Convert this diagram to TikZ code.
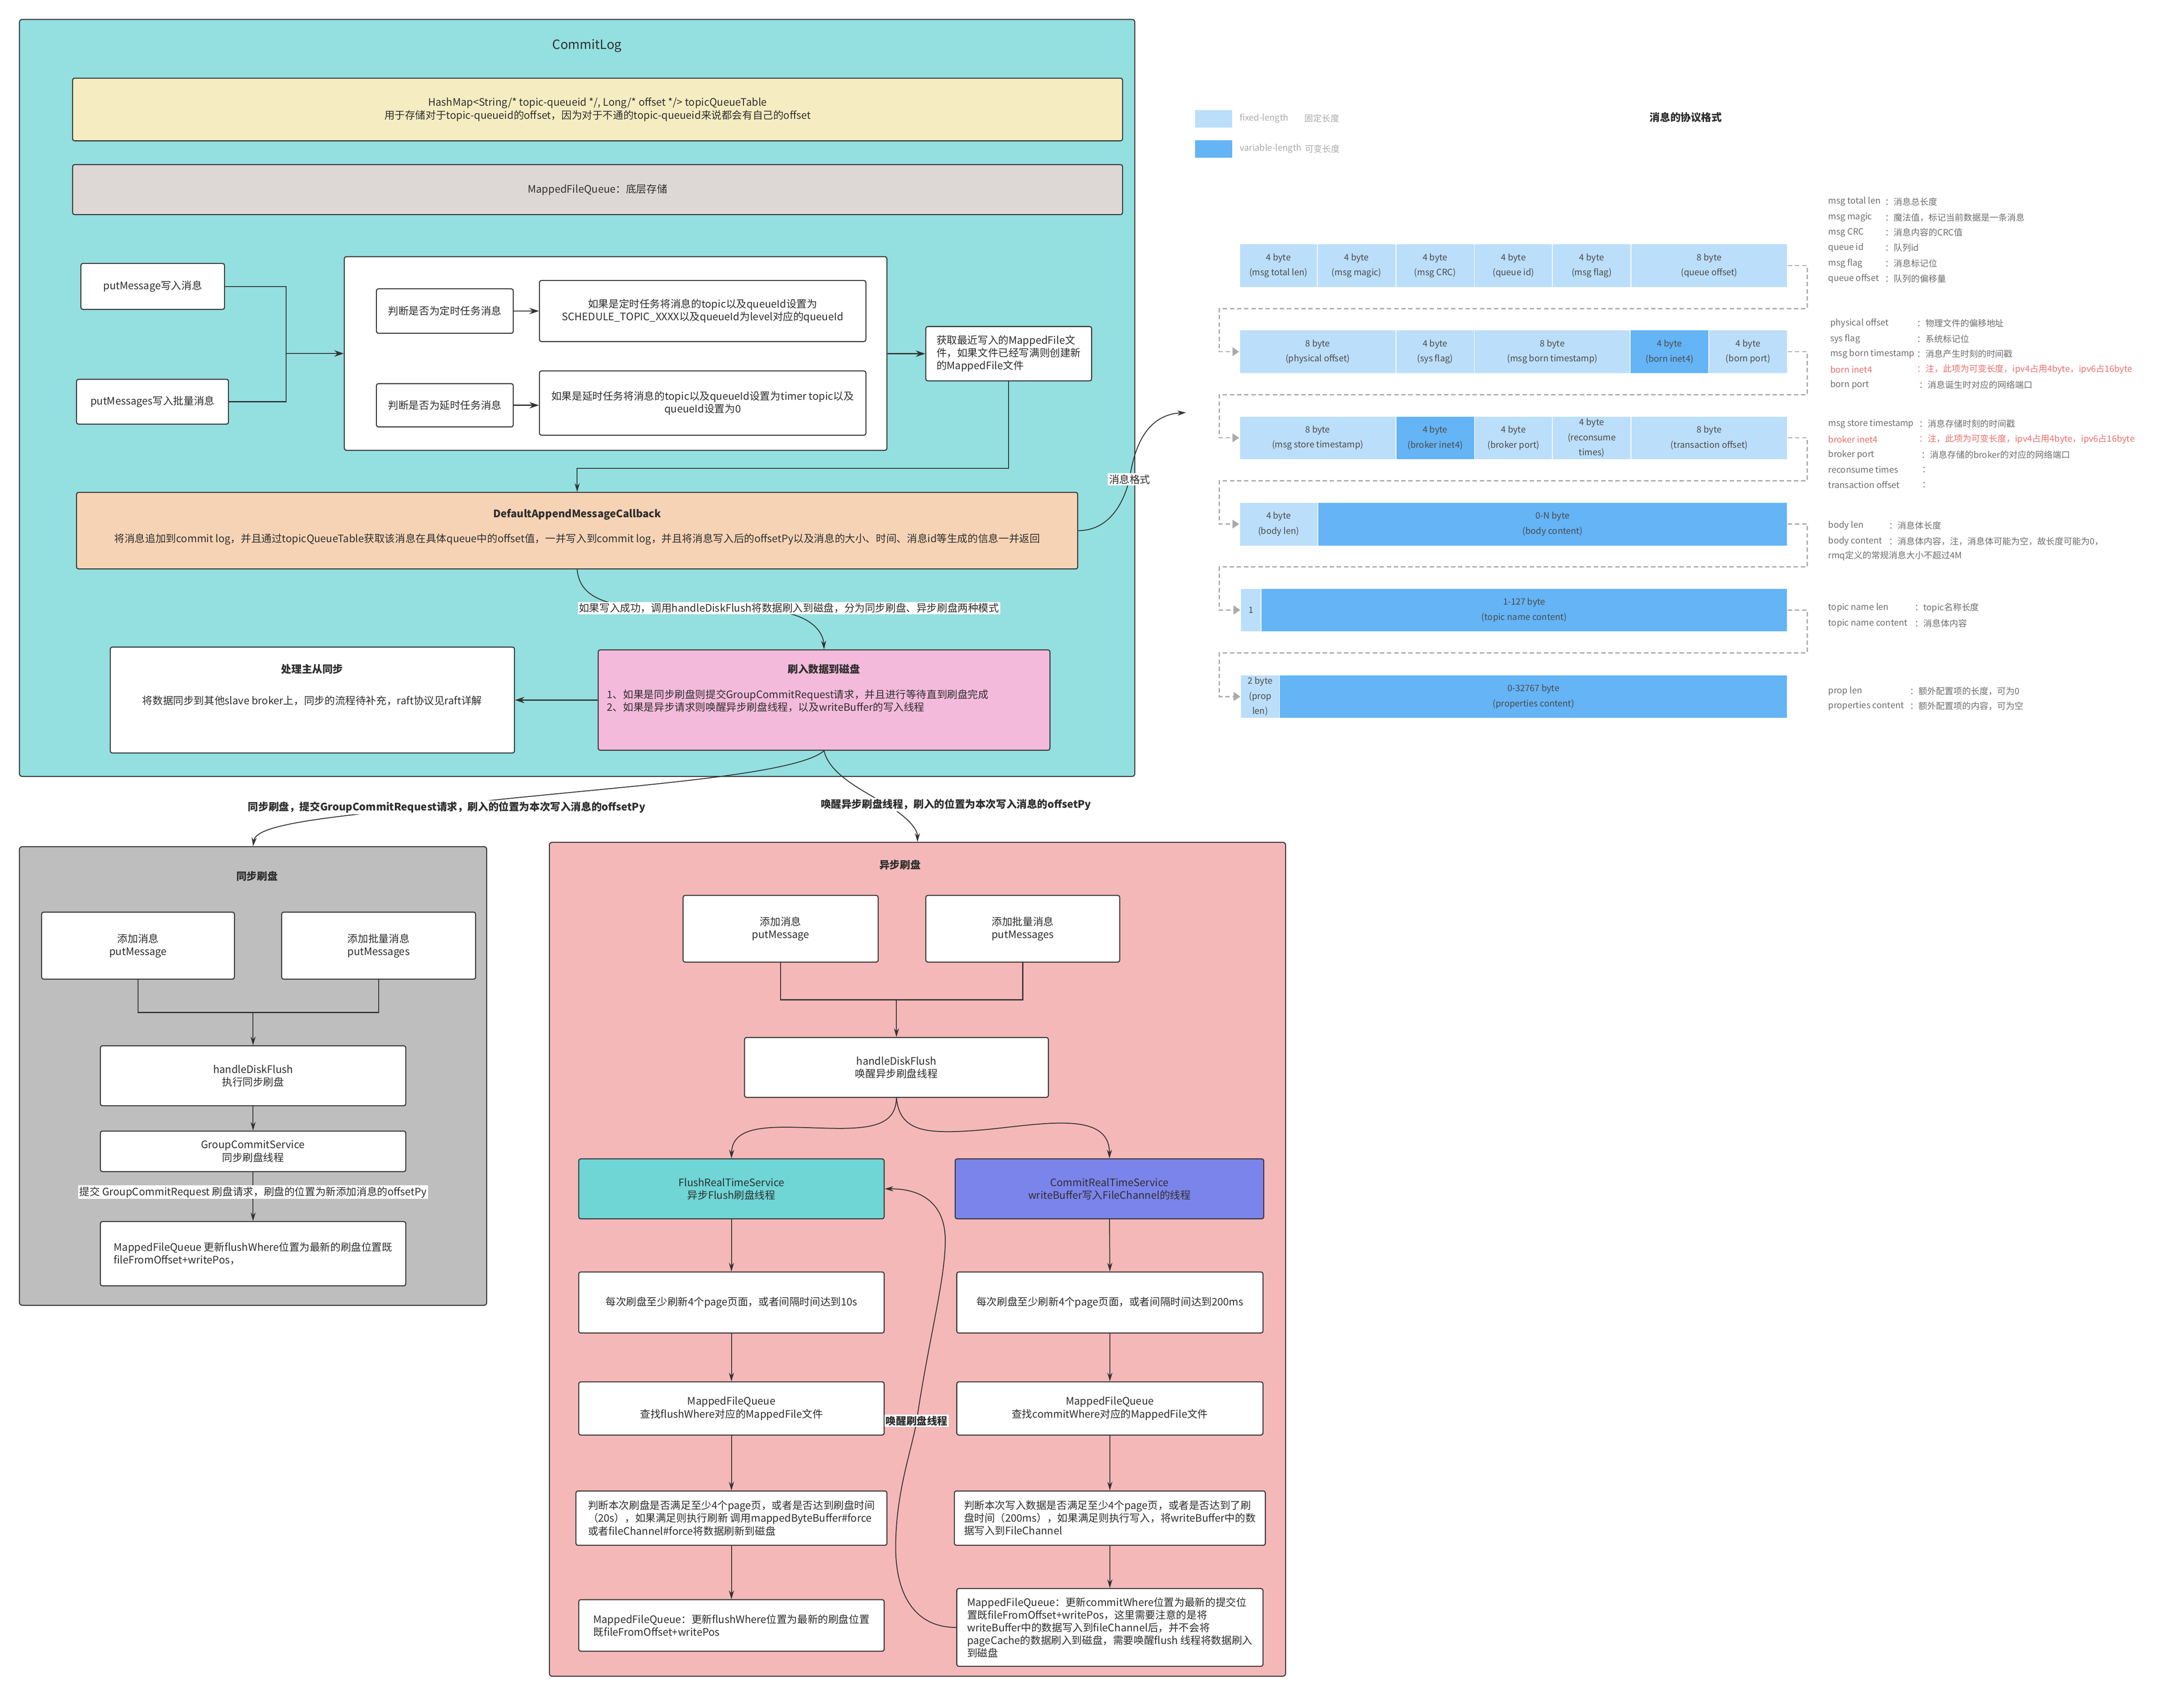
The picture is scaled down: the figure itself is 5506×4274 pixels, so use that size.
\documentclass[tikz,border=0pt]{standalone}
\usepackage{fontspec}
\setmainfont{Noto Sans CJK SC}
\usetikzlibrary{arrows.meta}
\definecolor{lc}{HTML}{333333}
\definecolor{txt}{HTML}{2E2E2E}
\definecolor{cyanbg}{HTML}{94DFE0}
\definecolor{yel}{HTML}{F5EDC1}
\definecolor{gry}{HTML}{DDD8D6}
\definecolor{peach}{HTML}{F7D3B5}
\definecolor{pinkb}{HTML}{F4BADB}
\definecolor{syncg}{HTML}{BEBEBE}
\definecolor{asyncp}{HTML}{F4B8B8}
\definecolor{tealb}{HTML}{6FD5D5}
\definecolor{violetb}{HTML}{7B84EA}
\definecolor{lblue}{HTML}{BBDEFA}
\definecolor{dblue}{HTML}{64B4F6}
\definecolor{celltxt}{HTML}{4A4A4A}
\definecolor{dashc}{HTML}{AAAAAA}
\definecolor{desct}{HTML}{6E6E6E}
\definecolor{legt}{HTML}{AAAAAA}
\definecolor{redt}{HTML}{E8706E}
\newcommand\ftN{\fontsize{26}{32}\selectfont}
\newcommand\ftB{\fontsize{26}{32}\selectfont\bfseries}
\newcommand\ftC{\fontsize{22}{38}\selectfont}
\newcommand\ftD{\fontsize{22}{28}\selectfont}
\newcommand\mkbox[7][]{\node[#1, minimum width={(#5-#3)*1pt}, minimum height={(#6-#4)*1pt}] (#2) at ({(#3+#5)/2},{(#4+#6)/2}) {#7};}
\begin{document}
\begin{tikzpicture}[x=1pt,y=-1pt,
 box/.style={draw=lc,line width=2.5pt,fill=white,rounded corners=5pt,font=\ftN,align=center,inner sep=0pt,text=txt},
 grp/.style={draw=lc,line width=2.5pt,rounded corners=7pt,inner sep=0pt},
 ln/.style={draw=lc,line width=2.5pt},
 arr/.style={draw=lc,line width=3pt,-{Stealth[length=24pt,width=16pt]}},
 arrt/.style={draw=lc,line width=2.2pt,-{Stealth[length=22pt,width=13pt]}},
 lab/.style={fill=white,inner sep=3pt,font=\ftN,text=txt},
 blab/.style={fill=white,inner sep=3pt,font=\ftB,text=txt},
 cellA/.style={fill=lblue,draw=white,line width=2pt,font=\ftC,text=celltxt,align=center,inner sep=0pt},
 cellB/.style={cellA,fill=dblue},
 dsh/.style={draw=dashc,line width=3pt,dash pattern=on 11pt off 7pt},
 dsha/.style={dsh,-{Triangle[length=17pt,width=22pt]}},
 desc/.style={font=\ftD,text=desct,anchor=west,inner sep=0pt},
 descr/.style={desc,text=redt},
 leg/.style={font=\ftC,text=legt,anchor=west,inner sep=0pt},
 ttl/.style={font=\ftB,text=txt,inner sep=0pt}
]
\fill[white] (0,0) rectangle (5506,4274);
\useasboundingbox (0,0) rectangle (5506,4274);

% ---------------- CommitLog ----------------
\mkbox[grp,fill=cyanbg]{commitlog}{49}{49}{2861}{1957}{}
\node[font=\fontsize{32}{38}\selectfont,text=txt] (cltitle) at (1480,115) {CommitLog};
\mkbox[box,fill=yel]{hashmap}{183}{197}{2830}{355}{HashMap<String/* topic-queueid */, Long/* offset */> topicQueueTable\\用于存储对于topic-queueid的offset，因为对于不通的topic-queueid来说都会有自己的offset}
\mkbox[box,fill=gry]{mfq}{183}{415}{2830}{541}{MappedFileQueue：底层存储}

\mkbox[box]{pm}{204}{664}{566}{780}{putMessage写入消息}
\mkbox[box]{pms}{193}{956}{576}{1069}{putMessages写入批量消息}
\mkbox[box]{cont}{868}{647}{2236}{1135}{}
\mkbox[box]{jd1}{949}{728}{1294}{840}{判断是否为定时任务消息}
\mkbox[box]{rd1}{1360}{707}{2183}{861}{如果是定时任务将消息的topic以及queueId设置为\\SCHEDULE\_TOPIC\_XXXX以及queueId为level对应的queueId}
\mkbox[box]{jd2}{949}{967}{1294}{1076}{判断是否为延时任务消息}
\mkbox[box]{rd2}{1360}{935}{2183}{1097}{如果是延时任务将消息的topic以及queueId设置为timer topic以及\\queueId设置为0}
\mkbox[box,align=left]{getmf}{2334}{823}{2752}{960}{获取最近写入的MappedFile文\\件，如果文件已经写满则创建新\\的MappedFile文件}

\coordinate (j1) at (721,891);
\draw[ln] (pm.east) -| (j1);
\draw[ln] (pms.east) -| (j1);
\draw[arr] (j1) -- (cont.west |- j1);
\draw[arr] (jd1.east) -- (rd1.west |- jd1.east);
\draw[arr] (jd2.east) -- (rd2.west |- jd2.east);
\draw[arr] (cont.east |- getmf.west) -- (getmf.west);

\mkbox[box,fill=peach]{dam}{193}{1241}{2717}{1434}{}
\node[ttl] (damt) at (1455,1297) {DefaultAppendMessageCallback};
\node[font=\ftN,text=txt] (damb) at (1455,1359) {将消息追加到commit log，并且通过topicQueueTable获取该消息在具体queue中的offset值，一并写入到commit log，并且将消息写入后的offsetPy以及消息的大小、时间、消息id等生成的信息一并返回};
\coordinate (j2) at (1455,1181);
\draw[arrt] (getmf.south) |- (j2) -- (dam.north);

\mkbox[box,fill=pinkb]{fd}{1508}{1638}{2647}{1891}{}
\node[ttl] (fdt) at (2077,1686) {刷入数据到磁盘};
\node[font=\ftN,text=txt,align=left,anchor=west] (fdb) at (1527,1767) {1、如果是同步刷盘则提交GroupCommitRequest请求，并且进行等待直到刷盘完成\\2、如果是异步请求则唤醒异步刷盘线程，以及writeBuffer的写入线程};
\mkbox[box]{ms}{278}{1631}{1297}{1898}{}
\node[ttl] (mst) at (787,1686) {处理主从同步};
\node[font=\ftN,text=txt] (msb) at (787,1766) {将数据同步到其他slave broker上，同步的流程待补充，raft协议见raft详解};
\draw[arr] (fd.west) -- (ms.east);

\draw[arrt] (dam.south) .. controls (1460,1490) and (1500,1520) .. (1600,1530) -- (1950,1540) .. controls (2040,1548) and (2075,1590) .. (fd.north);
\node[lab] (l1) at (1989,1533) {如果写入成功，调用handleDiskFlush将数据刷入到磁盘，分为同步刷盘、异步刷盘两种模式};

\coordinate (protoin) at (2990,1040);
\draw[arrt] (dam.east) .. controls (2800,1337) and (2835,1262) .. (2848,1205) .. controls (2862,1110) and (2900,1045) .. (protoin);
\node[lab] (fmt) at (2848,1208) {消息格式};

% ---------------- 同步刷盘 ----------------
\mkbox[grp,fill=syncg]{sync}{49}{2134}{1227}{3290}{}
\node[ttl] (synct) at (648,2208) {同步刷盘};
\mkbox[box]{sa}{105}{2299}{591}{2468}{添加消息\\putMessage}
\mkbox[box]{sb}{710}{2299}{1199}{2468}{添加批量消息\\putMessages}
\mkbox[box]{sh}{253}{2636}{1023}{2787}{handleDiskFlush\\执行同步刷盘}
\mkbox[box]{sg}{253}{2851}{1023}{2953}{GroupCommitService\\同步刷盘线程}
\mkbox[box,align=left]{sm}{253}{3079}{1023}{3241}{MappedFileQueue 更新flushWhere位置为最新的刷盘位置既\\fileFromOffset+writePos，}
\coordinate (sj) at (638,2552);
\draw[ln] (sa.south) |- (sj);
\draw[ln] (sb.south) |- (sj);
\draw[arrt] (sj) -- (sh.north);
\draw[arrt] (sh.south) -- (sg.north);
\draw[arrt] (sg.south) -- (sm.north);
\node[lab] (sl) at (638,3005) {提交 GroupCommitRequest 刷盘请求，刷盘的位置为新添加消息的offsetPy};

% ---------------- 异步刷盘 ----------------
\mkbox[grp,fill=asyncp]{async}{1385}{2123}{3241}{4225}{}
\node[ttl] (asynct) at (2269,2180) {异步刷盘};
\mkbox[box]{aa}{1722}{2257}{2214}{2425}{添加消息\\putMessage}
\mkbox[box]{ab}{2334}{2257}{2823}{2425}{添加批量消息\\putMessages}
\mkbox[box]{ah}{1877}{2615}{2643}{2766}{handleDiskFlush\\唤醒异步刷盘线程}
\mkbox[box,fill=tealb]{af}{1459}{2921}{2229}{3072}{FlushRealTimeService\\异步Flush刷盘线程}
\mkbox[box,fill=violetb]{ac}{2408}{2921}{3186}{3072}{CommitRealTimeService\\writeBuffer写入FileChannel的线程}
\mkbox[box]{af2}{1459}{3206}{2229}{3360}{每次刷盘至少刷新4个page页面，或者间隔时间达到10s}
\mkbox[box]{ac2}{2412}{3206}{3184}{3360}{每次刷盘至少刷新4个page页面，或者间隔时间达到200ms}
\mkbox[box]{af3}{1459}{3483}{2229}{3617}{MappedFileQueue\\查找flushWhere对应的MappedFile文件}
\mkbox[box]{ac3}{2412}{3483}{3184}{3617}{MappedFileQueue\\查找commitWhere对应的MappedFile文件}
\mkbox[box,align=left]{af4}{1452}{3758}{2236}{3895}{判断本次刷盘是否满足至少4个page页，或者是否达到刷盘时间\\（20s），如果满足则执行刷新 调用mappedByteBuffer\#force\\或者fileChannel\#force将数据刷新到磁盘}
\mkbox[box,align=left]{ac4}{2406}{3758}{3190}{3895}{判断本次写入数据是否满足至少4个page页，或者是否达到了刷\\盘时间（200ms），如果满足则执行写入，将writeBuffer中的数\\据写入到FileChannel}
\mkbox[box,align=left]{af5}{1459}{4032}{2229}{4162}{MappedFileQueue：更新flushWhere位置为最新的刷盘位置\\既fileFromOffset+writePos}
\mkbox[box,align=left]{ac5}{2412}{4004}{3184}{4200}{MappedFileQueue：更新commitWhere位置为最新的提交位\\置既fileFromOffset+writePos，这里需要注意的是将\\writeBuffer中的数据写入到fileChannel后，并不会将\\pageCache的数据刷入到磁盘，需要唤醒flush 线程将数据刷入\\到磁盘}

\coordinate (aj) at (2260,2520);
\draw[ln] (aa.south) |- (aj);
\draw[ln] (ab.south) |- (aj);
\draw[arrt] (aj) -- (ah.north);
\draw[arrt] (ah.south) .. controls (2258,2830) and (2210,2846) .. (2100,2844) .. controls (1970,2842) and (1846,2825) .. (af.north);
\draw[arrt] (ah.south) .. controls (2268,2850) and (2330,2858) .. (2450,2850) .. controls (2600,2840) and (2797,2790) .. (ac.north);
\draw[arrt] (af.south) -- (af2.north);
\draw[arrt] (af2.south) -- (af3.north);
\draw[arrt] (af3.south) -- (af4.north);
\draw[arrt] (af4.south) -- (af5.north);
\draw[arrt] (ac.south) -- (ac2.north);
\draw[arrt] (ac2.south) -- (ac3.north);
\draw[arrt] (ac3.south) -- (ac4.north);
\draw[arrt] (ac4.south) -- (ac5.north);
\draw[arrt] (ac5.west) .. controls (2300,4102) and (2258,4010) .. (2258,3900) .. controls (2258,3760) and (2300,3650) .. (2311,3581) .. controls (2340,3380) and (2385,3220) .. (2383,3120) .. controls (2380,3030) and (2320,2996) .. (af.east);
\node[blab] (wake) at (2311,3581) {唤醒刷盘线程};

% connectors from 刷入数据到磁盘 to the two flush modes
\draw[arrt] (fd.south) .. controls (2000,1960) and (1500,1985) .. (1126,2030) .. controls (800,2060) and (645,2080) .. (sync.north);
\node[blab] (l2) at (1126,2035) {同步刷盘，提交GroupCommitRequest请求，刷入的位置为本次写入消息的offsetPy};
\draw[arrt] (fd.south) .. controls (2090,1950) and (2170,1990) .. (2230,2025) .. controls (2290,2060) and (2313,2090) .. (async.north);
\node[blab] (l3) at (2410,2028) {唤醒异步刷盘线程，刷入的位置为本次写入消息的offsetPy};

% ---------------- 消息的协议格式 ----------------
\node[font=\ftB,text=txt] (ptitle) at (4250,296) {消息的协议格式};
\mkbox[cellA]{legA}{3012}{276}{3107}{322}{}
\mkbox[cellB]{legB}{3012}{352}{3107}{398}{}
\node[leg] (legA1) at (3125,298) {fixed-length};
\node[leg] (legA2) at (3289,298) {固定长度};
\node[leg] (legB1) at (3125,375) {variable-length};
\node[leg] (legB2) at (3290,375) {可变长度};

% row 1
\mkbox[cellA]{r1a}{3125}{615}{3321}{724}{4 byte\\(msg total len)}
\mkbox[cellA]{r1b}{3321}{615}{3519}{724}{4 byte\\(msg magic)}
\mkbox[cellA]{r1c}{3519}{615}{3717}{724}{4 byte\\(msg CRC)}
\mkbox[cellA]{r1d}{3717}{615}{3914}{724}{4 byte\\(queue id)}
\mkbox[cellA]{r1e}{3914}{615}{4112}{724}{4 byte\\(msg flag)}
\mkbox[cellA]{r1f}{4112}{615}{4506}{724}{8 byte\\(queue offset)}
% row 2
\mkbox[cellA]{r2a}{3125}{832}{3519}{941}{8 byte\\(physical offset)}
\mkbox[cellA]{r2b}{3519}{832}{3717}{941}{4 byte\\(sys flag)}
\mkbox[cellA]{r2c}{3717}{832}{4110}{941}{8 byte\\(msg born timestamp)}
\mkbox[cellB]{r2d}{4110}{832}{4308}{941}{4 byte\\(born inet4)}
\mkbox[cellA]{r2e}{4308}{832}{4506}{941}{4 byte\\(born port)}
% row 3
\mkbox[cellA]{r3a}{3125}{1049}{3519}{1158}{8 byte\\(msg store timestamp)}
\mkbox[cellB]{r3b}{3519}{1049}{3717}{1158}{4 byte\\(broker inet4)}
\mkbox[cellA]{r3c}{3717}{1049}{3914}{1158}{4 byte\\(broker port)}
\mkbox[cellA]{r3d}{3914}{1049}{4112}{1158}{4 byte\\(reconsume\\times)}
\mkbox[cellA]{r3e}{4112}{1049}{4506}{1158}{8 byte\\(transaction offset)}
% row 4
\mkbox[cellA]{r4a}{3125}{1266}{3322}{1376}{4 byte\\(body len)}
\mkbox[cellB]{r4b}{3322}{1266}{4506}{1376}{0-N byte\\(body content)}
% row 5
\mkbox[cellA]{r5a}{3128}{1483}{3179}{1592}{1}
\mkbox[cellB]{r5b}{3179}{1483}{4506}{1592}{1-127 byte\\(topic name content)}
% row 6
\mkbox[cellA]{r6a}{3128}{1701}{3226}{1810}{2 byte\\(prop\\len)}
\mkbox[cellB]{r6b}{3226}{1701}{4506}{1810}{0-32767 byte\\(properties content)}

\draw[dsha] (r1f.east) -- ++(49,0) |- (3074,778) |- (r2a.west);
\draw[dsha] (r2e.east) -- ++(49,0) |- (3074,995) |- (r3a.west);
\draw[dsha] (r3e.east) -- ++(49,0) |- (3074,1212) |- (r4a.west);
\draw[dsha] (r4b.east) -- ++(49,0) |- (3074,1429) |- (r5a.west);
\draw[dsha] (r5b.east) -- ++(49,0) |- (3074,1646) |- (r6a.west);

% descriptions
\node[desc] (d11) at (4609,508) {msg total len};  \node[desc] (d11v) at (4752,508) {：消息总长度};
\node[desc] (d12) at (4609,548) {msg magic};      \node[desc] (d12v) at (4752,548) {：魔法值，标记当前数据是一条消息};
\node[desc] (d13) at (4609,586) {msg CRC};        \node[desc] (d13v) at (4752,586) {：消息内容的CRC值};
\node[desc] (d14) at (4609,624) {queue id};       \node[desc] (d14v) at (4752,624) {：队列id};
\node[desc] (d15) at (4609,664) {msg flag};       \node[desc] (d15v) at (4752,664) {：消息标记位};
\node[desc] (d16) at (4609,702) {queue offset};   \node[desc] (d16v) at (4752,702) {：队列的偏移量};

\node[desc] (d21) at (4614,815) {physical offset};     \node[desc] (d21v) at (4832,815) {：物理文件的偏移地址};
\node[desc] (d22) at (4614,854) {sys flag};            \node[desc] (d22v) at (4832,854) {：系统标记位};
\node[desc] (d23) at (4614,892) {msg born timestamp};  \node[desc] (d23v) at (4832,892) {：消息产生时刻的时间戳};
\node[descr] (d24) at (4614,931) {born inet4};         \node[descr] (d24v) at (4832,931) {：注，此项为可变长度，ipv4占用4byte，ipv6占16byte};
\node[desc] (d25) at (4614,970) {born port};           \node[desc] (d25v) at (4838,970) {：消息诞生时对应的网络端口};

\node[desc] (d31) at (4609,1068) {msg store timestamp}; \node[desc] (d31v) at (4838,1068) {：消息存储时刻的时间戳};
\node[descr] (d32) at (4609,1107) {broker inet4};       \node[descr] (d32v) at (4838,1107) {：注，此项为可变长度，ipv4占用4byte，ipv6占16byte};
\node[desc] (d33) at (4609,1146) {broker port};         \node[desc] (d33v) at (4843,1146) {：消息存储的broker的对应的网络端口};
\node[desc] (d34) at (4609,1184) {reconsume times};     \node[desc] (d34v) at (4846,1184) {：};
\node[desc] (d35) at (4609,1222) {transaction offset};  \node[desc] (d35v) at (4846,1222) {：};

\node[desc] (d41) at (4609,1325) {body len};      \node[desc] (d41v) at (4762,1325) {：消息体长度};
\node[desc] (d42) at (4609,1364) {body content};  \node[desc] (d42v) at (4762,1364) {：消息体内容，注，消息体可能为空，故长度可能为0，};
\node[desc] (d43) at (4609,1401) {rmq定义的常规消息大小不超过4M};

\node[desc] (d51) at (4609,1532) {topic name len};      \node[desc] (d51v) at (4827,1532) {：topic名称长度};
\node[desc] (d52) at (4609,1571) {topic name content};  \node[desc] (d52v) at (4827,1571) {：消息体内容};

\node[desc] (d61) at (4609,1742) {prop len};            \node[desc] (d61v) at (4815,1742) {：额外配置项的长度，可为0};
\node[desc] (d62) at (4609,1780) {properties content};  \node[desc] (d62v) at (4815,1780) {：额外配置项的内容，可为空};
\end{tikzpicture}
\end{document}
